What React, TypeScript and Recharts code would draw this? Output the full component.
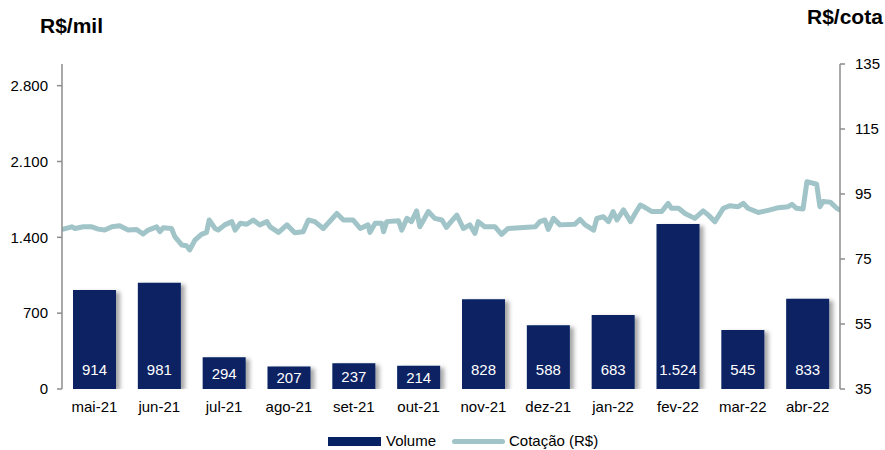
import { ComposedChart, Bar, Line, XAxis, YAxis, LabelList, Rectangle } from 'recharts';

const months = ['mai-21', 'jun-21', 'jul-21', 'ago-21', 'set-21', 'out-21', 'nov-21', 'dez-21', 'jan-22', 'fev-22', 'mar-22', 'abr-22'];
const volume = [914, 981, 294, 207, 237, 214, 828, 588, 683, 1524, 545, 833];

// price time axis in months since start of mai-21
const priceTime = [
  0.02, 0.15, 0.2, 0.33, 0.46, 0.56, 0.66, 0.77, 0.89, 1.02, 1.15, 1.25, 1.33, 1.46, 1.51, 1.56, 1.69, 1.74, 1.85, 1.92,
  1.97, 2.05, 2.15, 2.23, 2.27, 2.36, 2.41, 2.51, 2.62, 2.67, 2.75, 2.85, 2.95, 3.05, 3.16, 3.21, 3.34, 3.47, 3.59, 3.72,
  3.8, 3.9, 4.03, 4.24, 4.34, 4.49, 4.6, 4.72, 4.75, 4.83, 4.93, 4.96, 5.01, 5.19, 5.24, 5.32, 5.39, 5.47, 5.52, 5.65,
  5.75, 5.86, 5.93, 5.98, 6.09, 6.19, 6.29, 6.37, 6.42, 6.52, 6.68, 6.78, 6.88, 7.06, 7.3, 7.37, 7.45, 7.5, 7.58, 7.68,
  7.91, 7.99, 8.07, 8.2, 8.25, 8.35, 8.43, 8.5, 8.56, 8.66, 8.77, 8.84, 8.92, 8.99, 9.1, 9.25, 9.35, 9.4, 9.51, 9.61,
  9.76, 9.89, 9.97, 10.07, 10.2, 10.3, 10.43, 10.51, 10.58, 10.74, 10.92, 11.05, 11.2, 11.26, 11.33, 11.43, 11.49, 11.64,
  11.69, 11.74, 11.85, 11.95, 12.0,
];
const priceValue = [
  84.2, 84.9, 84.4, 84.9, 84.9, 84.2, 83.9, 84.9, 85.2, 83.9, 84.1, 82.7, 83.9, 84.9, 83.4, 84.6, 84.4, 81.9, 79.3, 79.1,
  77.8, 80.8, 82.6, 83.2, 87.0, 84.4, 83.9, 85.5, 86.5, 83.9, 86.0, 85.7, 87.0, 85.5, 86.5, 84.9, 83.2, 85.5, 83.1, 83.4,
  87.0, 86.5, 84.4, 89.0, 87.0, 87.0, 84.4, 85.5, 83.2, 86.0, 86.0, 83.4, 86.5, 86.8, 83.9, 87.5, 86.5, 89.8, 84.9, 89.6,
  87.5, 87.0, 84.7, 86.0, 88.5, 84.4, 85.5, 82.9, 86.5, 84.9, 84.9, 82.6, 84.4, 84.6, 84.9, 86.5, 87.0, 84.1, 87.5, 85.5,
  85.7, 87.2, 85.5, 83.9, 87.5, 88.0, 86.5, 89.6, 87.0, 90.1, 86.5, 89.0, 91.6, 90.9, 89.6, 89.6, 92.1, 90.6, 90.6, 89.0,
  87.5, 89.8, 88.5, 86.5, 90.6, 91.4, 91.1, 92.1, 90.6, 89.3, 90.1, 90.8, 91.1, 91.8, 90.6, 90.4, 98.8, 98.0,
  91.1, 92.7, 92.5, 90.6, 90.1,
];

const leftTicks = [0, 700, 1400, 2100, 2800];
const rightTicks = [35, 55, 75, 95, 115, 135];
const monthBounds = [0, 1, 2, 3, 4, 5, 6, 7, 8, 9, 10, 11, 12];

const barData = months.map((m, i) => ({ month: m, volume: volume[i] }));
const lineData = priceTime.map((t, i) => ({ t, price: priceValue[i] }));

const NAVY = '#072262';
const TEAL = '#a0c4c7';
const AXIS = '#8c8c8c';
const FONT = '"Liberation Sans", Arial, sans-serif';

const fmt = (v: number) => String(v).replace(/\B(?=(\d{3})+(?!\d))/g, '.');

const ShadowBar = (props: any) => <Rectangle {...props} filter="url(#barShadow)" />;

const BarLabel = (props: any) => {
  const { x, y, width, height, value } = props;
  const cy = Math.max(y + height / 2, y + height - 20);
  return (
    <text x={x + width / 2} y={cy} fill="#fff" fontSize={15} textAnchor="middle" dominantBaseline="central" fontFamily={FONT}>
      {fmt(value)}
    </text>
  );
};

export default function App() {
  return (
    <div style={{ position: 'absolute', left: 0, top: 0, width: 885, height: 450, fontFamily: FONT, background: '#fff' }}>
      <div style={{ position: 'absolute', left: 40, top: 14, fontSize: 21, fontWeight: 'bold' }}>R$/mil</div>
      <div style={{ position: 'absolute', left: 807, top: 5, fontSize: 21, fontWeight: 'bold' }}>R$/cota</div>
      <ComposedChart width={885} height={450} data={barData} margin={{ top: 64, right: 0, bottom: 31, left: 0 }}>
        <defs>
          <filter id="barShadow" x="-20%" y="-20%" width="150%" height="140%">
            <feDropShadow dx={4} dy={2} stdDeviation={2.2} floodColor="#000" floodOpacity={0.35} />
          </filter>
        </defs>
        <XAxis
          xAxisId="t"
          dataKey="t"
          type="number"
          domain={[0, 12]}
          ticks={monthBounds}
          tick={false}
          height={0}
          axisLine={{ stroke: AXIS, strokeWidth: 1.5 }}
          tickLine={{ stroke: AXIS, strokeWidth: 1.5 }}
          tickSize={5}
          allowDataOverflow
        />
        <XAxis
          xAxisId="cat"
          dataKey="month"
          height={30}
          axisLine={false}
          tickLine={false}
          tickSize={0}
          tickMargin={12}
          interval={0}
          tick={{ fill: '#000', fontSize: 15, fontFamily: FONT }}
        />
        <YAxis
          yAxisId="left"
          orientation="left"
          width={62}
          domain={[0, 3000]}
          ticks={leftTicks}
          tickFormatter={fmt}
          axisLine={{ stroke: AXIS, strokeWidth: 1.5 }}
          tickLine={{ stroke: AXIS, strokeWidth: 1.5 }}
          tickSize={5}
          tickMargin={9}
          tick={{ fill: '#000', fontSize: 15, fontFamily: FONT }}
          allowDataOverflow
        />
        <YAxis
          yAxisId="right"
          orientation="right"
          width={45}
          domain={[35, 135]}
          ticks={rightTicks}
          axisLine={{ stroke: AXIS, strokeWidth: 1.5 }}
          tickLine={{ stroke: AXIS, strokeWidth: 1.5 }}
          tickSize={5}
          tickMargin={10}
          tick={{ fill: '#000', fontSize: 15, fontFamily: FONT }}
          allowDataOverflow
        />
        <Bar xAxisId="cat" yAxisId="left" dataKey="volume" fill={NAVY} barSize={43} shape={ShadowBar} isAnimationActive={false}>
          <LabelList dataKey="volume" content={BarLabel} />
        </Bar>
        <Line
          xAxisId="t"
          yAxisId="right"
          data={lineData}
          dataKey="price"
          type="linear"
          stroke={TEAL}
          strokeWidth={5}
          strokeLinejoin="round"
          strokeLinecap="round"
          dot={false}
          activeDot={false}
          isAnimationActive={false}
        />
      </ComposedChart>
      <div style={{ position: 'absolute', left: 328, top: 437, width: 53, height: 9, background: NAVY }} />
      <div style={{ position: 'absolute', left: 386, top: 432, fontSize: 15, lineHeight: '18px' }}>Volume</div>
      <div style={{ position: 'absolute', left: 452, top: 439, width: 53, height: 5, borderRadius: 3, background: TEAL }} />
      <div style={{ position: 'absolute', left: 509, top: 432, fontSize: 15, lineHeight: '18px' }}>Cotação (R$)</div>
    </div>
  );
}
